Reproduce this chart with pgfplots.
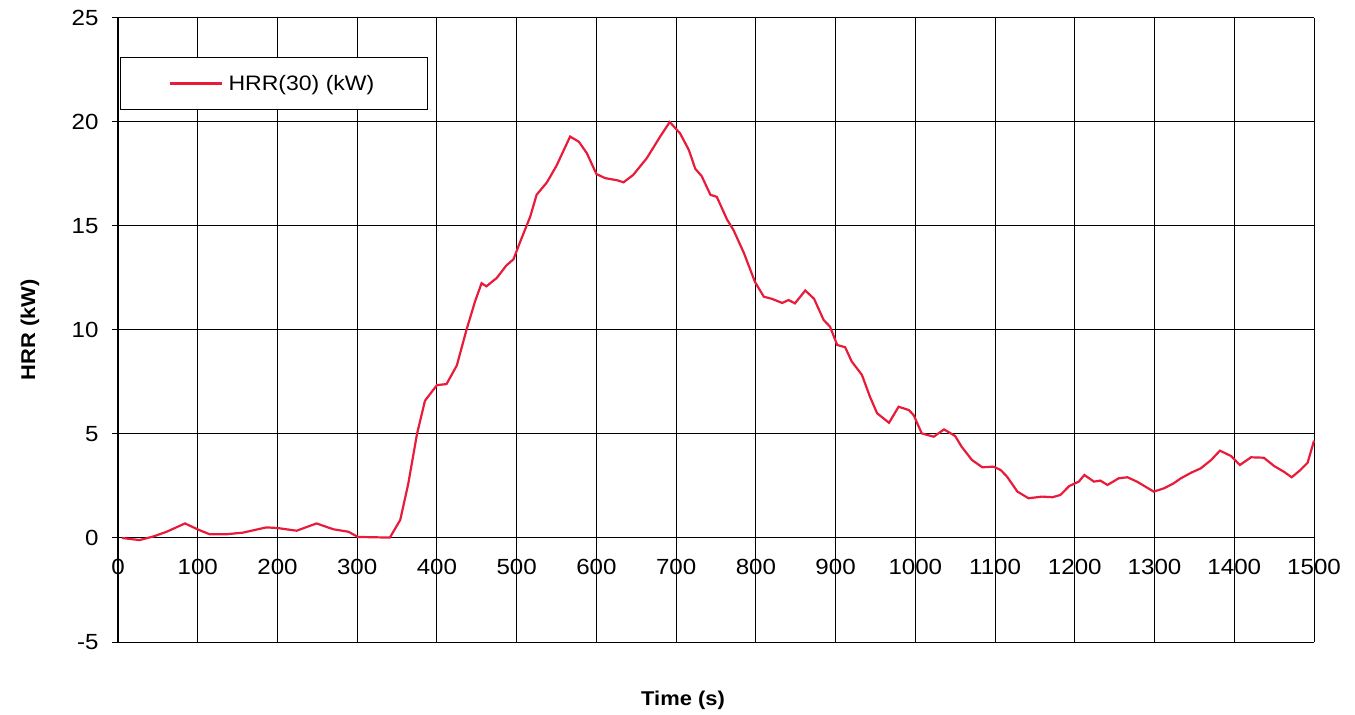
\documentclass[border=0pt]{standalone}
\usepackage{pgfplots}
\pgfplotsset{compat=1.18}
\usepackage{fontspec}
\setmainfont[FakeStretch=1.1]{Liberation Sans}
\definecolor{hrrred}{RGB}{232,28,58}
\begin{document}
\begin{tikzpicture}
\begin{axis}[
  name=ax,
  scale only axis,
  width=1196bp, height=624bp,
  xmin=0, xmax=1500,
  ymin=-5, ymax=25,
  xtick={0,100,...,1500},
  ytick={-5,0,...,25},
  axis x line=middle,
  axis y line=left,
  hide obscured x ticks=false,
  hide obscured y ticks=false,
  axis line style={-, black, line width=1.6bp},
  x axis line style={line width=1bp},
  grid=major,
  grid style={black, line width=1bp},
  xtick style={draw=none},
  ytick style={black, line width=1bp},
  tick align=outside,
  major tick length=6bp,
  tick label style={font=\fontsize{22}{24}\selectfont},
  /pgf/number format/assume math mode=true,
  /pgf/number format/1000 sep={},
  xticklabel style={anchor=north, yshift=-12bp},
  yticklabel style={xshift=-10bp},
  xlabel={\textbf{Time (s)}},
  ylabel={\textbf{HRR (kW)}},
  every axis x label/.style={at={(axis description cs:0.5,0)}, anchor=center,
    xshift=-33bp, yshift=-58bp, font=\fontsize{20}{24}\selectfont},
  every axis y label/.style={at={(axis description cs:0,0.5)}, anchor=center,
    xshift=-88bp, rotate=90, font=\fontsize{20}{24}\selectfont},
  legend style={at={(rel axis cs:0.002,0.9375)}, anchor=north west,
    draw=black, line width=0.8bp, fill=white,
    minimum width=307bp, minimum height=52bp,
    font=\fontsize{21}{24}\selectfont,
    nodes={inner xsep=5bp, minimum width=0pt, minimum height=0pt}},
  legend image code/.code={\draw[#1, line width=2.4bp] (0bp,0bp) -- (52bp,0bp);},
  clip=false,
]
\addplot[hrrred, line width=2.2bp] coordinates {
(5,0.0) (27,-0.1) (44,0.07) (61,0.3) (84,0.7) (102,0.38) (115,0.18) (136,0.18)
(157,0.26) (186,0.51) (200,0.48) (224,0.35) (249,0.7) (270,0.42) (289,0.3) (301,0.05)
(341,0.02) (354,0.87) (364,2.6) (375,5.0) (385,6.6) (400,7.35) (412,7.4) (425,8.3)
(437,10.0) (448,11.4) (456,12.25) (462,12.1) (475,12.5) (487,13.1) (496,13.4) (504,14.2)
(517,15.45) (525,16.5) (538,17.1) (550,17.9) (567,19.3) (578,19.05) (588,18.5) (600,17.5)
(611,17.3) (626,17.2) (634,17.1) (646,17.45) (663,18.25) (680,19.3) (692,20.0) (705,19.45)
(716,18.65) (724,17.75) (732,17.4) (743,16.5) (751,16.4) (764,15.3) (772,14.8) (785,13.7)
(799,12.3) (810,11.6) (820,11.5) (833,11.3) (841,11.44) (849,11.28) (862,11.9) (873,11.5)
(885,10.48) (893,10.16) (902,9.28) (912,9.17) (920,8.5) (933,7.84) (943,6.8) (952,6.0)
(967,5.54) (979,6.31) (992,6.15) (998,5.9) (1008,5.03) (1023,4.87) (1036,5.22) (1050,4.9)
(1058,4.39) (1071,3.75) (1084,3.4) (1098,3.43) (1107,3.27) (1115,2.95) (1128,2.23) (1142,1.91)
(1159,1.99) (1172,1.96) (1182,2.07) (1193,2.5) (1205,2.71) (1212,3.03) (1224,2.71) (1232,2.76)
(1241,2.55) (1255,2.87) (1266,2.92) (1278,2.71) (1299,2.23) (1312,2.39) (1324,2.63) (1333,2.87)
(1346,3.14) (1358,3.35) (1371,3.75) (1382,4.2) (1396,3.94) (1407,3.51) (1421,3.88) (1437,3.86)
(1450,3.46) (1462,3.19) (1472,2.92) (1483,3.27) (1492,3.62) (1496,4.15) (1500,4.68)
};
\addlegendentry{HRR(30) (kW)}
\end{axis}
\path ([shift={(-118bp,-73bp)}]ax.south west) rectangle ([shift={(41bp,18bp)}]ax.north east);
\end{tikzpicture}
\end{document}
